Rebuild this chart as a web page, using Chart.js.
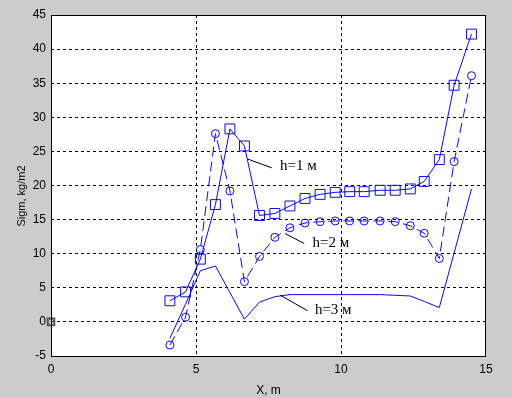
<!DOCTYPE html>
<html>
<head>
<meta charset="utf-8">
<script src="https://cdn.jsdelivr.net/npm/chart.js@4/dist/chart.umd.min.js"></script>
<style>
  html, body { margin: 0; padding: 0; background: #cccccc; }
  #box { width: 512px; height: 398px; }
</style>
</head>
<body>
<div id="box"><canvas id="grafico" width="512" height="398"></canvas></div>
<script>
// dados
const xPontos = [4.1, 4.64, 5.15, 5.67, 6.17, 6.67, 7.19, 7.72, 8.24, 8.76, 9.28, 9.8, 10.3, 10.8, 11.35, 11.87, 12.39, 12.87, 13.39, 13.9, 14.5];
const sigmH1 = [3.1, 4.4, 9.2, 17.2, 28.3, 25.8, 15.6, 15.9, 17.0, 18.1, 18.7, 19.0, 19.1, 19.1, 19.3, 19.3, 19.5, 20.6, 23.8, 34.7, 42.2];
const sigmH2 = [-3.4, 0.7, 10.6, 27.6, 19.2, 5.9, 9.6, 12.4, 13.8, 14.5, 14.7, 14.8, 14.8, 14.8, 14.8, 14.7, 14.1, 13.0, 9.3, 23.5, 36.1];
const sigmH3 = [-2.4, 2.6, 7.5, 8.2, 4.3, 0.4, 2.9, 3.7, 4.0, 4.0, 4.0, 4.0, 4.0, 4.0, 4.0, 3.9, 3.8, 3.0, 2.1, 10.1, 19.5];
const pontoZero = [{x: 0, y: 0}];
const ticksX = [0, 5, 10, 15];
const ticksY = [-5, 0, 5, 10, 15, 20, 25, 30, 35, 40, 45];

// rotulos das curvas: linha de chamada e texto (em coordenadas dos eixos)
const rotulos = [
    {texto: 'h=1 м', de: [6.77, 23.9], ate: [7.61, 22.6], pos: [7.9, 22.9]},
    {texto: 'h=2 м', de: [8.07, 12.96], ate: [8.73, 11.5], pos: [9.02, 11.5]},
    {texto: 'h=3 м', de: [7.9, 3.93], ate: [8.85, 1.63], pos: [9.1, 1.8]}
];

function pares(xs, ys) {
    return xs.map((x, i) => ({x: x, y: ys[i]}));
}

const azul = '#0b0be6';

const pluginFundo = {
    id: 'fundo',
    beforeDraw(chart) {
        const ctx = chart.ctx;
        const a = chart.chartArea;
        ctx.save();
        ctx.fillStyle = '#ffffff';
        ctx.fillRect(a.left, a.top, a.right - a.left, a.bottom - a.top);
        ctx.restore();
    },
    afterDatasetsDraw(chart) {
        const ctx = chart.ctx;
        const a = chart.chartArea;
        const sx = chart.scales.x;
        const sy = chart.scales.y;
        ctx.save();
        // caixa
        ctx.strokeStyle = '#000000';
        ctx.lineWidth = 1;
        ctx.strokeRect(Math.round(a.left) + 0.5, Math.round(a.top) + 0.5, Math.round(a.right - a.left) - 1, Math.round(a.bottom - a.top));
        // rotulos
        ctx.font = '15px "Liberation Serif", "DejaVu Serif", serif';
        ctx.fillStyle = '#000000';
        ctx.textBaseline = 'middle';
        rotulos.forEach((r) => {
            ctx.beginPath();
            ctx.moveTo(sx.getPixelForValue(r.de[0]), sy.getPixelForValue(r.de[1]));
            ctx.lineTo(sx.getPixelForValue(r.ate[0]), sy.getPixelForValue(r.ate[1]));
            ctx.stroke();
            ctx.fillText(r.texto, sx.getPixelForValue(r.pos[0]), sy.getPixelForValue(r.pos[1]));
        });
        // titulo do eixo y
        ctx.font = '11px "Liberation Sans", Arial, sans-serif';
        ctx.textAlign = 'center';
        ctx.translate(21.5, 196);
        ctx.rotate(-Math.PI / 2);
        ctx.fillText('Sigm, kg/m2', 0, 0);
        ctx.restore();
    }
};

new Chart(document.getElementById('grafico'), {
    type: 'scatter',
    data: {
        datasets: [
            {
                label: 'h=1',
                data: pares(xPontos, sigmH1),
                showLine: true,
                borderColor: azul,
                borderWidth: 1,
                pointStyle: 'rect',
                pointRadius: 7,
                pointBorderColor: azul,
                pointBackgroundColor: 'rgba(0,0,0,0)',
                pointBorderWidth: 1
            },
            {
                label: 'h=2',
                data: pares(xPontos, sigmH2),
                showLine: true,
                borderColor: azul,
                borderWidth: 1,
                borderDash: [10, 5],
                pointStyle: 'circle',
                pointRadius: 4,
                pointBorderColor: azul,
                pointBackgroundColor: 'rgba(0,0,0,0)',
                pointBorderWidth: 1
            },
            {
                label: 'h=3',
                data: pares(xPontos, sigmH3),
                showLine: true,
                borderColor: azul,
                borderWidth: 1,
                pointRadius: 0
            },
            {
                label: 'zero1',
                data: pontoZero,
                pointStyle: 'rect',
                pointRadius: 5,
                pointBorderColor: '#505050',
                pointBackgroundColor: 'rgba(0,0,0,0)',
                pointBorderWidth: 1.5,
                clip: false
            },
            {
                label: 'zero2',
                data: pontoZero,
                pointStyle: 'circle',
                pointRadius: 3,
                pointBorderColor: '#505050',
                pointBackgroundColor: 'rgba(0,0,0,0)',
                pointBorderWidth: 1,
                clip: false
            }
        ]
    },
    plugins: [pluginFundo],
    options: {
        responsive: false,
        animation: false,
        layout: { padding: { top: 15, right: 26, left: 0, bottom: 0 } },
        plugins: {
            legend: { display: false },
            tooltip: { enabled: false }
        },
        scales: {
            x: {
                type: 'linear',
                min: 0,
                max: 15,
                afterBuildTicks: (s) => { s.ticks = ticksX.map(v => ({value: v})); },
                afterFit: (s) => { s.height = 42; },
                border: { display: false, dash: [3, 3] },
                grid: {
                    color: (c) => (c.tick.value === 0 || c.tick.value === 15) ? 'rgba(0,0,0,0)' : '#000000',
                    lineWidth: 1,
                    drawTicks: false
                },
                ticks: {
                    color: '#000000',
                    padding: 6,
                    maxRotation: 0,
                    font: { family: '"Liberation Sans", Arial, sans-serif', size: 12 }
                },
                title: {
                    display: true,
                    text: 'X, m',
                    color: '#000000',
                    padding: { top: 1, bottom: 0 },
                    font: { family: '"Liberation Sans", Arial, sans-serif', size: 12 }
                }
            },
            y: {
                type: 'linear',
                min: -5,
                max: 45,
                afterBuildTicks: (s) => { s.ticks = ticksY.map(v => ({value: v})); },
                afterFit: (s) => { s.width = 51; },
                border: { display: false, dash: [3, 3] },
                grid: {
                    color: (c) => (c.tick.value === -5 || c.tick.value === 45) ? 'rgba(0,0,0,0)' : '#000000',
                    lineWidth: 1,
                    drawTicks: false
                },
                ticks: {
                    color: '#000000',
                    padding: 5,
                    font: { family: '"Liberation Sans", Arial, sans-serif', size: 12 }
                }
            }
        }
    }
});
</script>
</body>
</html>
